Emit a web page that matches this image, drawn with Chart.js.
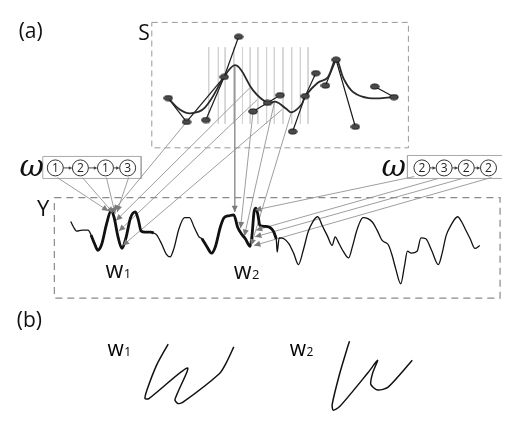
<!DOCTYPE html>
<html>
<head>
<meta charset="utf-8">
<script src="https://cdn.jsdelivr.net/npm/chart.js@4.4.1/dist/chart.umd.min.js"></script>
<style>
  html, body { margin: 0; padding: 0; background: #fff; }
  #fig { display: block; }
</style>
</head>
<body>
<canvas id="fig" width="511" height="422"></canvas>
<script>
// --- data (figure units = pixels of the original figure) ---
const sDots = [[165,93],[184,118],[204,116],[223,71],[238,29],[253,107],[268,98],[281,90],
               [294,128],[307,91],[318,67],[328,80],[339,53],[359,123],[379,81],[399,92]];
const sCurve = [[165,93],[177,105],[188,109],[203,103],[223,71],[233,59],[240,63],[253,85],
                [268,98],[277,97],[287,104],[293,108],[303,100],[307,91],[320,77],[330,72],
                [339,53],[347,73],[357,87],[373,93],[399,92]];
const sSegments = [
  [[165,93],[184,118]],
  [[184,118],[223,71]],
  [[204,116],[223,71]],
  [[223,71],[238,29]],
  [[253,107],[268,98],[281,90]],
  [[294,128],[307,91],[318,67]],
  [[328,80],[339,53],[359,123]],
  [[379,81],[399,92]]
];
const gridX = [207,217,224,233,242,250,258,267,275,284,293,302,310];
const gridY = [40, 120];

const yCurve = [[64,222],[67,228],[70,232],[76,231],[82,231],[85,236],[89,246],[92,252],[96,246],
  [101,225],[106,210],[109,218],[113,238],[117,250],[121,240],[126,218],[131,212],[134,220],
  [137,232],[141,233],[147,233],[150,234],[153,236],[158,245],[163,256],[167,259],[171,250],
  [176,230],[182,218],[187,218],[192,228],[197,238],[200,240],[205,248],[210,255],[214,248],
  [219,228],[223,218],[228,216],[233,215],[237,228],[241,235],[245,240],[250,248],[252,235],
  [254,212],[256,208],[258,215],[260,226],[265,227],[270,228],[274,232],[277,240],[278,254],
  [280,239],[285,240],[290,245],[295,255],[300,267],[305,252],[310,233],[315,222],[320,217],
  [325,227],[330,237],[335,247],[338,238],[342,245],[347,254],[352,260],[356,248],[360,233],
  [364,222],[367,218],[372,219],[377,223],[382,232],[387,242],[393,246],[397,257],[401,272],
  [406,287],[410,268],[413,253],[417,255],[423,253],[427,239],[432,240],[438,252],[445,267],
  [449,255],[453,237],[458,226],[465,217],[469,222],[473,230],[478,240],[483,250],[488,247]];
const w1Span = [85, 150];
const w2Span = [200, 277];

const omegaLeft = ['1','2','1','3'];
const omegaLeftX = [48,74,100,123];
const omegaRight = ['2','3','2','2'];
const omegaRightX = [428,451,474,497];
const omegaY = 166;

const leftOmegaArrows = [[50,176,103,211],[76,176,108,213],[101,176,110,214],[124,176,112,212]];
const sToW1 = [[184,118,108,211],[250,82,111,221],[257,95,114,232],[283,105,118,247]];
const sToW2 = [[234,60,234,212],[253,107,240,229],[275,98,244,237],[293,107,251,247]];
const rightOmegaArrows = [[420,175,255,210],[445,177,256,231],[470,177,255,238],[500,176,254,247]];

const w1Shape = [[165,350],[153,372],[143,398],[141,407],[145,407],[185,375],[172,408],
                 [175,412],[180,411],[218,381],[225,370],[233,353]];
const w2Shape = [[353,347],[351,353],[343,380],[335,413],[336,419],[343,415],[372,380],
                 [382,367],[377,380],[375,392],[382,398],[393,395],[418,367]];

const sBox = [[148,14],[414,14],[414,145],[148,145],[148,14]];
const yBox = [[47,197],[509,197],[509,302],[47,302],[47,197]];
const omegaLeftBox = [[35,154],[137,154],[137,177],[35,177],[35,154]];
const omegaRightBox = [[511,153],[413,153],[413,177],[511,177]];

// --- helpers ---
const pts = arr => arr.map(p => ({ x: p[0], y: p[1] }));

function line(data, color, width, extra) {
  return Object.assign({
    data: pts(data), showLine: true, borderColor: color, borderWidth: width,
    pointRadius: 0, tension: 0, fill: false
  }, extra || {});
}

// elliptic dot used as point style
const dotImg = document.createElement('canvas');
dotImg.width = 10; dotImg.height = 7;
(function () {
  const c = dotImg.getContext('2d');
  c.beginPath();
  c.ellipse(5, 3.5, 4.2, 2.5, 0, 0, Math.PI * 2);
  c.fillStyle = '#4a4a4a';
  c.fill();
  c.lineWidth = 1;
  c.strokeStyle = '#111';
  c.stroke();
})();

const datasets = [];
datasets.push(line(sBox, '#9a9a9a', 1, { borderDash: [6, 4], order: 5 }));
datasets.push(line(yBox, '#8a8a8a', 1.2, { borderDash: [7, 5], order: 5 }));
datasets.push(line(omegaLeftBox, '#a8a8a8', 1, { order: 5 }));
datasets.push(line(omegaRightBox, '#a8a8a8', 1, { order: 5 }));
gridX.forEach(x => datasets.push(line([[x, gridY[0]], [x, gridY[1]]], '#d2d2d2', 1, { order: 6 })));

[leftOmegaArrows, sToW1, sToW2, rightOmegaArrows].forEach(group => {
  group.forEach(a => datasets.push(line([[a[0], a[1]], [a[2], a[3]]], '#939393', 0.9, { order: 4 })));
});

datasets.push(line(sCurve, '#2a2a2a', 1.8, { tension: 0.4, order: 2 }));
sSegments.forEach(s => datasets.push(line(s, '#1a1a1a', 1.2, { order: 2 })));
datasets.push({
  data: pts(sDots), pointStyle: dotImg, pointRadius: 5, showLine: false, order: 0
});

datasets.push(line(yCurve, '#111', 1.3, { cubicInterpolationMode: 'monotone', order: 3 }));
datasets.push(line(yCurve.filter(p => p[0] >= w1Span[0] && p[0] <= w1Span[1]), '#111', 2.8,
  { cubicInterpolationMode: 'monotone', order: 2 }));
datasets.push(line(yCurve.filter(p => p[0] >= w2Span[0] && p[0] <= w2Span[1]), '#111', 2.8,
  { cubicInterpolationMode: 'monotone', order: 2 }));

datasets.push(line(w1Shape, '#111', 1.5, { tension: 0.25, order: 2 }));
datasets.push(line(w2Shape, '#111', 1.5, { tension: 0.25, order: 2 }));

datasets.push({
  data: omegaLeftX.map(x => ({ x: x, y: omegaY })).concat(omegaRightX.map(x => ({ x: x, y: omegaY }))),
  showLine: false, pointRadius: 8, pointBackgroundColor: '#fff', pointBorderColor: '#333',
  pointBorderWidth: 1, order: 0
});

// --- drawing extras (arrowheads, labels) ---
function arrowHead(ctx, x1, y1, x2, y2, size, color) {
  const a = Math.atan2(y2 - y1, x2 - x1);
  ctx.save();
  ctx.fillStyle = color;
  ctx.beginPath();
  ctx.moveTo(x2, y2);
  ctx.lineTo(x2 - size * Math.cos(a - 0.45), y2 - size * Math.sin(a - 0.45));
  ctx.lineTo(x2 - size * Math.cos(a + 0.45), y2 - size * Math.sin(a + 0.45));
  ctx.closePath();
  ctx.fill();
  ctx.restore();
}

const FONT = '"Open Sans", "DejaVu Sans", sans-serif';

const extras = {
  id: 'extras',
  afterDatasetsDraw(chart) {
    const ctx = chart.ctx;
    const X = v => chart.scales.x.getPixelForValue(v);
    const Y = v => chart.scales.y.getPixelForValue(v);

    [leftOmegaArrows, sToW1, sToW2, rightOmegaArrows].forEach(group => {
      group.forEach(a => arrowHead(ctx, X(a[0]), Y(a[1]), X(a[2]), Y(a[3]), 7, '#7a7a7a'));
    });

    // circle numbers and small arrows between circles
    ctx.save();
    ctx.fillStyle = '#222';
    ctx.font = '12px ' + FONT;
    ctx.textAlign = 'center';
    ctx.textBaseline = 'middle';
    [[omegaLeft, omegaLeftX], [omegaRight, omegaRightX]].forEach(([labels, xs]) => {
      labels.forEach((t, i) => ctx.fillText(t, X(xs[i]), Y(omegaY) + 1));
      for (let i = 0; i < xs.length - 1; i++) {
        const a = X(xs[i]) + 8, b = X(xs[i + 1]) - 8, y = Y(omegaY);
        ctx.strokeStyle = '#444';
        ctx.lineWidth = 1;
        ctx.beginPath();
        ctx.moveTo(a, y);
        ctx.lineTo(b - 2, y);
        ctx.stroke();
        arrowHead(ctx, a, y, b, y, 4, '#444');
      }
    });

    // omega symbols
    ctx.font = 'italic 30px "DejaVu Serif", serif';
    ctx.textAlign = 'left';
    ctx.textBaseline = 'alphabetic';
    ctx.fillStyle = '#111';
    ctx.fillText('\u03c9', X(11), Y(174));
    ctx.fillText('\u03c9', X(386), Y(174));

    // plain labels
    ctx.font = '21px ' + FONT;
    ctx.fillText('(a)', X(10), Y(30));
    ctx.fillText('S', X(134), Y(32));
    ctx.fillText('(b)', X(8), Y(332));
    ctx.font = '22px ' + FONT;
    ctx.fillText('Y', X(29), Y(216));

    // w labels with subscripts
    function wLabel(x, y, sub, size) {
      ctx.font = size + 'px ' + FONT;
      ctx.fillText('w', X(x), Y(y));
      const w = ctx.measureText('w').width;
      ctx.font = Math.round(size * 0.55) + 'px ' + FONT;
      ctx.fillText(sub, X(x) + w + 0.5, Y(y));
    }
    wLabel(100, 281, '1', 23);
    wLabel(233, 282, '2', 23);
    ctx.fillStyle = '#000';
    wLabel(102, 362, '1', 21);
    wLabel(291, 362, '2', 21);
    ctx.restore();
  }
};

new Chart(document.getElementById('fig'), {
  type: 'scatter',
  data: { datasets: datasets },
  options: {
    responsive: false,
    animation: false,
    devicePixelRatio: 1,
    layout: { padding: 0 },
    scales: {
      x: { type: 'linear', min: 0, max: 511, display: false },
      y: { type: 'linear', min: 0, max: 422, reverse: true, display: false }
    },
    plugins: { legend: { display: false }, tooltip: { enabled: false } },
    elements: { point: { hoverRadius: 0 } }
  },
  plugins: [extras]
});
</script>
</body>
</html>
